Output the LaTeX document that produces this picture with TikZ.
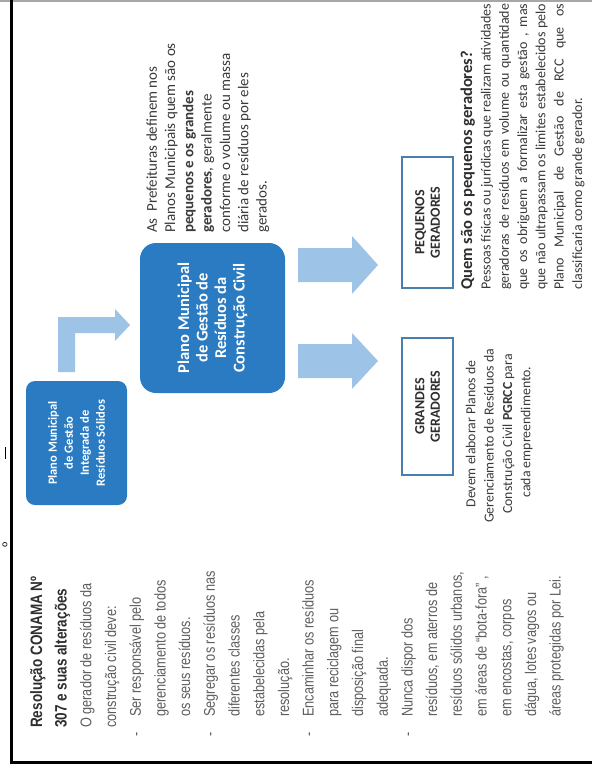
\documentclass[tikz,border=0pt]{standalone}
\usepackage{fontspec}
\usetikzlibrary{calc}
\setmainfont{Carlito}
\newfontfamily\narrowfont[FakeStretch=0.82]{Liberation Sans}
\definecolor{dblue}{HTML}{2A7BC1}
\definecolor{lblue}{HTML}{9DC3E6}
\definecolor{bord}{HTML}{4A7EAB}
\definecolor{gtext}{HTML}{5E5E5E}
\definecolor{dtext}{HTML}{2E2E2E}
\definecolor{ctext}{HTML}{3A3A3A}
\tikzset{
  bluebox/.style={rotate=90, fill=dblue, text=white, align=center, inner sep=0pt},
  genbox/.style={rotate=90, draw=bord, line width=1.8pt, fill=white, text=dtext, align=center,
    inner sep=0pt, minimum width=131pt, minimum height=51pt,
    font=\bfseries\fontsize{14}{15.5}\selectfont},
  leftline/.style={rotate=90, anchor=base west, inner sep=0pt, text=gtext,
    font=\narrowfont\fontsize{15.5}{18}\selectfont},
  lefttitle/.style={leftline, text=dtext, font=\narrowfont\bfseries\fontsize{16.5}{18}\selectfont},
  topline/.style={rotate=90, anchor=base west, inner sep=0pt, text=ctext,
    font=\fontsize{15}{17}\selectfont},
  rightline/.style={rotate=90, anchor=base west, inner sep=0pt, text=ctext,
    font=\fontsize{14}{16}\selectfont},
  devline/.style={rotate=90, anchor=base, inner sep=0pt, text=ctext,
    font=\fontsize{13.8}{16}\selectfont},
  blockarrow/.style={fill=lblue, draw=none}
}
\begin{document}
\begin{tikzpicture}[x=1pt,y=-1pt]
\useasboundingbox (0,0) rectangle (592,770);
\fill[white] (0,0) rectangle (592,770);
% frame
\draw[gray!70, line width=1.2pt] (0,1) -- (592,1);
\draw[black, line width=3pt, line join=miter] (11,0) -- (11,762) -- (592,762);
% stray marks
\coordinate (tickA) at (5,447);
\coordinate (tickB) at (5,459);
\draw[black, line width=0.9pt] (tickA) -- (tickB);
\node[rotate=90, inner sep=0pt, font=\fontsize{10}{10}\selectfont] (markB) at (5,545) {o};

% blue boxes
\node[bluebox, minimum width=124pt, minimum height=101pt, rounded corners=9pt,
  font=\bfseries\fontsize{12.5}{16}\selectfont] (pmgirs) at (76.5,443)
  {Plano Municipal\\de Gestão\\Integrada de\\Resíduos Sólidos};
\node[bluebox, minimum width=150pt, minimum height=145pt, rounded corners=16pt,
  font=\bfseries\fontsize{16.5}{18.5}\selectfont] (pmgrcc) at (212.5,318)
  {Plano Municipal\\de Gestão de\\Resíduos da\\Construção Civil};

% generator boxes
\node[genbox] (peq) at (427.5,222.5) {PEQUENOS\\GERADORES};
\node[genbox, minimum width=137pt] (gra) at (427.5,406.5) {GRANDES\\GERADORES};

% L-shaped arrow from small box to big box
\coordinate (ltip) at (130,325);
\fill[blockarrow] (58,372) -- (58,317) -- (115,317) -- (115,309)
  -- (ltip) -- (115,341) -- (115,333) -- (75,333) -- (75,372) -- cycle;

% straight arrows
\fill[blockarrow] (298,248) -- (352,248) -- (352,236) -- (378,265) -- (352,294) -- (352,282) -- (298,282) -- cycle;
\fill[blockarrow] (298,344) -- (352,344) -- (352,333) -- (378,361) -- (352,389) -- (352,378) -- (298,378) -- cycle;

% left column
\node[lefttitle] (l1) at (42,728) {Resolução CONAMA Nº};
\node[lefttitle] (l2) at (66.7,728) {307 e suas alterações};
\node[leftline] (l3) at (91.4,728) {O gerador de resíduos da};
\node[leftline] (l4) at (116.1,728) {construção civil deve:};
\node[leftline] (b1) at (140.8,737) {-};
\node[leftline] (l5) at (140.8,717) {Ser responsável pelo};
\node[leftline] (l6) at (165.5,717) {gerenciamento de todos};
\node[leftline] (l7) at (190.2,717) {os seus resíduos.};
\node[leftline] (b2) at (214.9,737) {-};
\node[leftline] (l8) at (214.9,717) {Segregar os resíduos nas};
\node[leftline] (l9) at (239.6,717) {diferentes classes};
\node[leftline] (l10) at (264.3,717) {estabelecidas pela};
\node[leftline] (l11) at (289,717) {resolução.};
\node[leftline] (b3) at (313.7,737) {-};
\node[leftline] (l12) at (313.7,717) {Encaminhar os resíduos};
\node[leftline] (l13) at (338.4,717) {para reciclagem ou};
\node[leftline] (l14) at (363.1,717) {disposição final};
\node[leftline] (l15) at (387.8,717) {adequada.};
\node[leftline] (b4) at (412.5,737) {-};
\node[leftline] (l16) at (412.5,717) {Nunca dispor dos};
\node[leftline] (l17) at (437.2,717) {resíduos, em aterros de};
\node[leftline] (l18) at (461.9,717) {resíduos sólidos urbanos,};
\node[leftline] (l19) at (486.6,717) {em áreas de “bota-fora” ,};
\node[leftline] (l20) at (511.3,717) {em encostas, corpos};
\node[leftline] (l21) at (536,717) {dágua, lotes vagos ou};
\node[leftline] (l22) at (560.7,717) {áreas protegidas por Lei.};

% top text
\node[topline] (t1) at (156.8,233) {As\ \ Prefeituras definem nos};
\node[topline] (t2) at (175.1,233) {Planos Municipais quem são os};
\node[topline] (t3) at (193.4,233) {\bfseries pequenos e os grandes};
\node[topline] (t4) at (211.7,233) {\textbf{geradores}, geralmente};
\node[topline] (t5) at (230,233) {conforme o volume ou massa};
\node[topline] (t6) at (248.3,233) {diária de resíduos por eles};
\node[topline] (t7) at (266.6,233) {gerados.};

% right text (pequenos)
\node[rightline, font=\bfseries\fontsize{16.5}{18}\selectfont, text=dtext] (r0) at (472,290) {Quem são os pequenos geradores?};
\node[rightline] (r1) at (490.5,290) {\makebox[286pt][s]{Pessoas físicas ou jurídicas que realizam atividades}};
\node[rightline] (r2) at (508.8,290) {\makebox[286pt][s]{geradoras de resíduos em volume ou quantidade}};
\node[rightline] (r3) at (527.1,290) {\makebox[286pt][s]{que os obriguem a formalizar esta gestão , mas}};
\node[rightline] (r4) at (545.4,290) {\makebox[286pt][s]{que não ultrapassam os limites estabelecidos pelo}};
\node[rightline] (r5) at (563.7,290) {\makebox[286pt][s]{Plano Municipal de Gestão de RCC que os}};
\node[rightline] (r6) at (582,290) {classificaria como grande gerador.};

% grandes text
\node[devline] (d1) at (475.4,434) {Devem elaborar Planos de};
\node[devline] (d2) at (493.7,436) {Gerenciamento de Resíduos da};
\node[devline] (d3) at (512,434) {Construção Civil \textbf{PGRCC} para};
\node[devline] (d4) at (530.3,432) {cada empreendimento.};
\end{tikzpicture}
\end{document}
